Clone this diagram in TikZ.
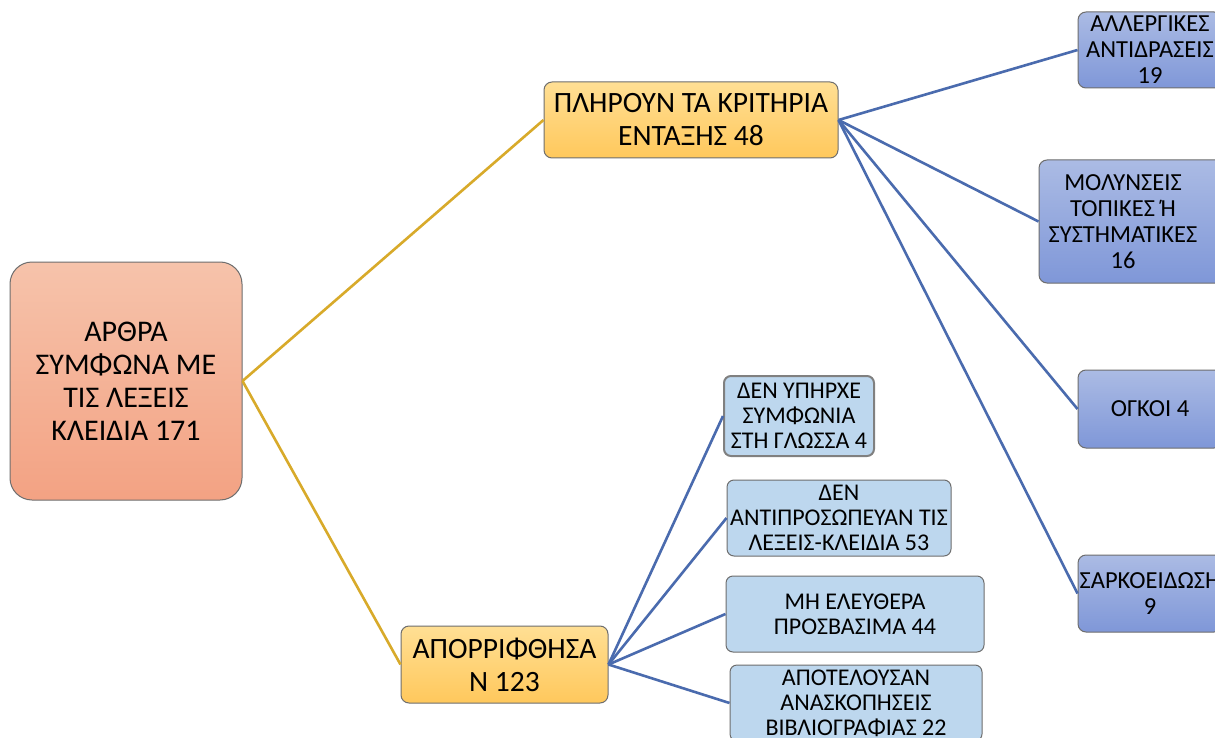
\documentclass[tikz,border=0pt]{standalone}
\usepackage{fontspec}
\setmainfont{Carlito}
\definecolor{rootTop}{HTML}{F6C3AB}
\definecolor{rootBot}{HTML}{F3A283}
\definecolor{goldTop}{HTML}{FFDF94}
\definecolor{goldBot}{HTML}{FFC85C}
\definecolor{blueTop}{HTML}{ABBBE4}
\definecolor{blueBot}{HTML}{7F97D8}
\definecolor{lightBlue}{HTML}{BDD7EE}
\definecolor{edgeGray}{HTML}{6E6E6E}
\definecolor{goldLine}{HTML}{D8AA2A}
\definecolor{blueLine}{HTML}{4A6BAE}
\begin{document}
\begin{tikzpicture}[x=1pt,y=-1pt,
  basebox/.style={draw=edgeGray, line width=1pt, inner sep=0pt, align=center, text=black},
  rootbox/.style={basebox, rounded corners=22pt, top color=rootTop, bottom color=rootBot,
     minimum width=232pt, minimum height=238pt, font=\fontsize{30}{33}\selectfont},
  goldbox/.style={basebox, rounded corners=8pt, top color=goldTop, bottom color=goldBot,
     minimum height=76pt, font=\fontsize{29.5}{33}\selectfont},
  bluebox/.style={basebox, rounded corners=8pt, top color=blueTop, bottom color=blueBot,
     minimum height=77pt, font=\fontsize{24.5}{26}\selectfont},
  bluetext/.style={inner sep=0pt, align=center, text=black, font=\fontsize{24.5}{26}\selectfont},
  lightbox/.style={basebox, rounded corners=7pt, fill=lightBlue,
     minimum height=76pt, font=\fontsize{24}{25}\selectfont},
  goldlink/.style={draw=goldLine, line width=2.6pt},
  bluelink/.style={draw=blueLine, line width=2.6pt}]
\useasboundingbox (0,0) rectangle (1215,738);
\clip (0,0) rectangle (1215,738);
\fill[white] (0,0) rectangle (1215,738);

\node[rootbox] (root) at (126,381) {ΑΡΘΡΑ\\ΣΥΜΦΩΝΑ ΜΕ\\ΤΙΣ ΛΕΞΕΙΣ\\ΚΛΕΙΔΙΑ 171};
\node[goldbox, minimum width=294pt] (inc) at (691,120) {ΠΛΗΡΟΥΝ ΤΑ ΚΡΙΤΗΡΙΑ\\ΕΝΤΑΞΗΣ 48};
\node[goldbox, minimum width=207pt, minimum height=77pt] (rej) at (504.5,664.5) {ΑΠΟΡΡΙΦΘΗΣΑ\\Ν 123};

\node[bluebox, minimum width=144pt, minimum height=76pt] (all) at (1150,50) {ΑΛΛΕΡΓΙΚΕΣ\\ΑΝΤΙΔΡΑΣΕΙΣ\\19};
\node[bluebox, minimum width=186pt, minimum height=123pt] (mol) at (1132,221.5) {};
\node[bluetext] (moltxt) at ([xshift=-9pt]mol.center) {ΜΟΛΥΝΣΕΙΣ\\ΤΟΠΙΚΕΣ Ή\\ΣΥΣΤΗΜΑΤΙΚΕΣ\\16};
\node[bluebox, minimum width=144pt, minimum height=78pt] (ogk) at (1150,409) {ΟΓΚΟΙ 4};
\node[bluebox, minimum width=144pt, minimum height=77pt] (sar) at (1150,593.5) {ΣΑΡΚΟΕΙΔΩΣΗ\\9};

\node[lightbox, minimum width=150pt, minimum height=80pt, draw=gray, line width=2pt] (d1) at (799,416) {ΔΕΝ ΥΠΗΡΧΕ\\ΣΥΜΦΩΝΙΑ\\ΣΤΗ ΓΛΩΣΣΑ 4};
\node[lightbox, minimum width=224pt] (d2) at (839,518) {ΔΕΝ\\ΑΝΤΙΠΡΟΣΩΠΕΥΑΝ ΤΙΣ\\ΛΕΞΕΙΣ-ΚΛΕΙΔΙΑ 53};
\node[lightbox, minimum width=258pt] (d3) at (855,614) {ΜΗ ΕΛΕΥΘΕΡΑ\\ΠΡΟΣΒΑΣΙΜΑ 44};
\node[lightbox, minimum width=252pt, minimum height=76pt] (d4) at (856,703) {ΑΠΟΤΕΛΟΥΣΑΝ\\ΑΝΑΣΚΟΠΗΣΕΙΣ\\ΒΙΒΛΙΟΓΡΑΦΙΑΣ 22};

\path[goldlink] (root.east) -- (inc.west);
\path[goldlink] (root.east) -- (rej.west);
\foreach \t in {all,mol,ogk,sar} \path[bluelink] (inc.east) -- (\t.west);
\foreach \t in {d1,d2,d3,d4} \path[bluelink] (rej.east) -- (\t.west);
\end{tikzpicture}
\end{document}
